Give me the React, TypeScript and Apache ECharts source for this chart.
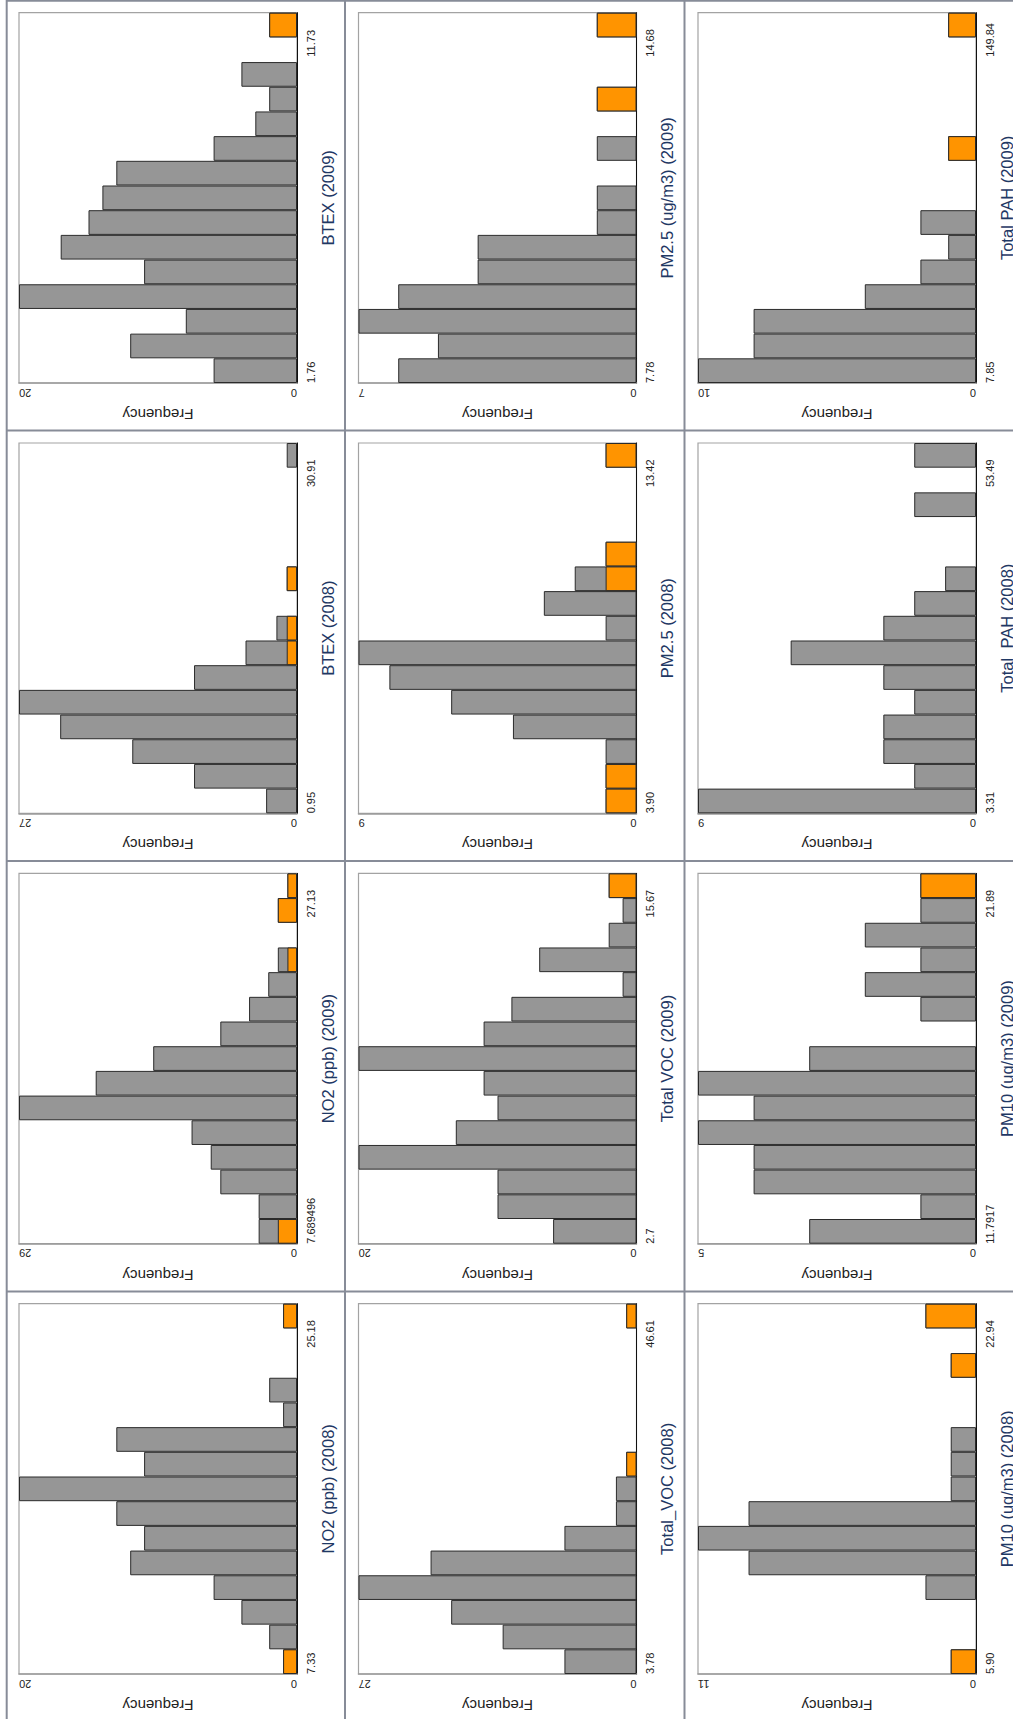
import React, { useEffect, useRef } from "react";
import * as echarts from "echarts";

// 15 equal-width bins per histogram, listed bottom (min) to top (max)
const BIN_LABELS = ["1", "2", "3", "4", "5", "6", "7", "8", "9", "10", "11", "12", "13", "14", "15"];

// counts per bin (grey) and highlighted subset (orange)
const BTEX_2009_COUNTS = [6, 12, 8, 20, 11, 17, 15, 14, 13, 6, 3, 2, 4, 0, 2];
const BTEX_2009_HIGHLIGHT = [0, 0, 0, 0, 0, 0, 0, 0, 0, 0, 0, 0, 0, 0, 2];
const PM25_2009_COUNTS = [6, 5, 7, 6, 4, 4, 1, 1, 0, 1, 0, 1, 0, 0, 1];
const PM25_2009_HIGHLIGHT = [0, 0, 0, 0, 0, 0, 0, 0, 0, 0, 0, 1, 0, 0, 1];
const PAH_2009_COUNTS = [10, 8, 8, 4, 2, 1, 2, 0, 0, 1, 0, 0, 0, 0, 1];
const PAH_2009_HIGHLIGHT = [0, 0, 0, 0, 0, 0, 0, 0, 0, 1, 0, 0, 0, 0, 1];
const BTEX_2008_COUNTS = [3, 10, 16, 23, 27, 10, 5, 2, 0, 1, 0, 0, 0, 0, 1];
const BTEX_2008_HIGHLIGHT = [0, 0, 0, 0, 0, 0, 1, 1, 0, 1, 0, 0, 0, 0, 0];
const PM25_2008_COUNTS = [1, 1, 1, 4, 6, 8, 9, 1, 3, 2, 1, 0, 0, 0, 1];
const PM25_2008_HIGHLIGHT = [1, 1, 0, 0, 0, 0, 0, 0, 0, 1, 1, 0, 0, 0, 1];
const PAH_2008_COUNTS = [9, 2, 3, 3, 2, 3, 6, 3, 2, 1, 0, 0, 2, 0, 2];
const PAH_2008_HIGHLIGHT = [0, 0, 0, 0, 0, 0, 0, 0, 0, 0, 0, 0, 0, 0, 0];
const NO2_2009_COUNTS = [4, 4, 8, 9, 11, 29, 21, 15, 8, 5, 3, 2, 0, 2, 1];
const NO2_2009_HIGHLIGHT = [2, 0, 0, 0, 0, 0, 0, 0, 0, 0, 0, 1, 0, 2, 1];
const VOC_2009_COUNTS = [6, 10, 10, 20, 13, 10, 11, 20, 11, 9, 1, 7, 2, 1, 2];
const VOC_2009_HIGHLIGHT = [0, 0, 0, 0, 0, 0, 0, 0, 0, 0, 0, 0, 0, 0, 2];
const PM10_2009_COUNTS = [3, 1, 4, 4, 5, 4, 5, 3, 0, 1, 2, 1, 2, 1, 1];
const PM10_2009_HIGHLIGHT = [0, 0, 0, 0, 0, 0, 0, 0, 0, 0, 0, 0, 0, 0, 1];
const NO2_2008_COUNTS = [1, 2, 4, 6, 12, 11, 13, 20, 11, 13, 1, 2, 0, 0, 1];
const NO2_2008_HIGHLIGHT = [1, 0, 0, 0, 0, 0, 0, 0, 0, 0, 0, 0, 0, 0, 1];
const VOC_2008_COUNTS = [7, 13, 18, 27, 20, 7, 2, 2, 1, 0, 0, 0, 0, 0, 1];
const VOC_2008_HIGHLIGHT = [0, 0, 0, 0, 0, 0, 0, 0, 1, 0, 0, 0, 0, 0, 1];
const PM10_2008_COUNTS = [1, 0, 0, 2, 9, 11, 9, 1, 1, 1, 0, 0, 1, 0, 2];
const PM10_2008_HIGHLIGHT = [1, 0, 0, 0, 0, 0, 0, 0, 0, 0, 0, 0, 1, 0, 2];

// panel order: reading order of the page, row by row
const TITLES = [
  "BTEX (2009)", "PM2.5 (ug/m3) (2009)", "Total PAH (2009)",
  "BTEX (2008)", "PM2.5 (2008)", "Total_PAH (2008)",
  "NO2 (ppb) (2009)", "Total VOC (2009)", "PM10 (ug/m3) (2009)",
  "NO2 (ppb) (2008)", "Total_VOC (2008)", "PM10 (ug/m3) (2008)",
];
const COUNTS = [
  BTEX_2009_COUNTS, PM25_2009_COUNTS, PAH_2009_COUNTS,
  BTEX_2008_COUNTS, PM25_2008_COUNTS, PAH_2008_COUNTS,
  NO2_2009_COUNTS, VOC_2009_COUNTS, PM10_2009_COUNTS,
  NO2_2008_COUNTS, VOC_2008_COUNTS, PM10_2008_COUNTS,
];
const HIGHLIGHTS = [
  BTEX_2009_HIGHLIGHT, PM25_2009_HIGHLIGHT, PAH_2009_HIGHLIGHT,
  BTEX_2008_HIGHLIGHT, PM25_2008_HIGHLIGHT, PAH_2008_HIGHLIGHT,
  NO2_2009_HIGHLIGHT, VOC_2009_HIGHLIGHT, PM10_2009_HIGHLIGHT,
  NO2_2008_HIGHLIGHT, VOC_2008_HIGHLIGHT, PM10_2008_HIGHLIGHT,
];
const FREQ_MAX = [20, 7, 10, 27, 9, 9, 29, 20, 5, 20, 27, 11];
const MIN_LABELS = ["1.76", "7.78", "7.85", "0.95", "3.90", "3.31", "7.689496", "2.7", "11.7917", "7.33", "3.78", "5.90"];
const MAX_LABELS = ["11.73", "14.68", "149.84", "30.91", "13.42", "53.49", "27.13", "15.67", "21.89", "25.18", "46.61", "22.94"];

// layout
const W = 1013;
const H = 1719;
const COL_X = [19, 358.5, 698];
const ROW_Y = [12.7, 443, 873.4, 1303.7];
const PLOT_W = 278;
const PLOT_H = 370.3;
const V_DIV = [6.7, 345, 684.5];
const H_DIV = [0.8, 430.5, 861, 1291.5];
const FONT = "Liberation Sans";

function buildOption() {
  const grid: any[] = [];
  const xAxis: any[] = [];
  const yAxis: any[] = [];
  const series: any[] = [];
  const graphic: any[] = [];

  V_DIV.forEach((x) =>
    graphic.push({ type: "line", shape: { x1: x, y1: 0, x2: x, y2: H }, style: { stroke: "#878c98", lineWidth: 2 }, silent: true })
  );
  H_DIV.forEach((y) =>
    graphic.push({ type: "line", shape: { x1: V_DIV[0], y1: y, x2: W, y2: y }, style: { stroke: "#878c98", lineWidth: 2 }, silent: true })
  );

  TITLES.forEach((title, i) => {
    const r = Math.floor(i / 3);
    const c = i % 3;
    const left = COL_X[c];
    const top = ROW_Y[r];
    grid.push({
      left, top, width: PLOT_W, height: PLOT_H,
      show: true, borderColor: "#a3a3a3", borderWidth: 1.2, backgroundColor: "#ffffff",
      containLabel: false, outerBoundsMode: "none",
    });
    xAxis.push({
      type: "value", gridIndex: i, inverse: true, position: "bottom",
      min: 0, max: FREQ_MAX[i], interval: FREQ_MAX[i],
      axisLine: { show: true, onZero: false, lineStyle: { color: "#9a9a9a", width: 1.5 } },
      axisTick: { show: false }, splitLine: { show: false },
      axisLabel: {
        show: true, rotate: 180, margin: 4, fontSize: 11, color: "#222", fontFamily: FONT,
        alignMinLabel: "left", alignMaxLabel: "right",
      },
      name: "Frequency", nameLocation: "middle", nameRotate: 180, nameGap: 24,
      nameTextStyle: { fontSize: 15, color: "#222", fontFamily: FONT },
    });
    yAxis.push({
      type: "category", gridIndex: i, position: "right", data: BIN_LABELS,
      axisLine: { show: true, onZero: false, lineStyle: { color: "#111", width: 1 } },
      axisTick: { show: false }, axisLabel: { show: false }, splitLine: { show: false },
      name: title, nameLocation: "middle", nameRotate: 90, nameGap: 22,
      nameTextStyle: { fontSize: 16.5, color: "#1f3864", fontFamily: FONT },
    });
    series.push({
      type: "bar", name: "count", xAxisIndex: i, yAxisIndex: i,
      data: COUNTS[i].map((v) => (v === 0 ? "-" : v)),
      barCategoryGap: "0%", barGap: "-100%",
      itemStyle: { color: "#969696", borderColor: "#2b2b2b", borderWidth: 1 },
      silent: true,
    });
    series.push({
      type: "bar", name: "selected", xAxisIndex: i, yAxisIndex: i,
      data: HIGHLIGHTS[i].map((v) => (v === 0 ? "-" : v)),
      barCategoryGap: "0%", barGap: "-100%",
      itemStyle: { color: "#ff9400", borderColor: "#2b2b2b", borderWidth: 1 },
      silent: true,
    });
    const lx = left + PLOT_W + 8;
    const labelStyle = {
      fontSize: 11, fontFamily: FONT, fill: "#222",
      textAlign: "left", textVerticalAlign: "top", align: "left", verticalAlign: "top",
    };
    graphic.push({
      type: "text", x: lx, y: top + PLOT_H, rotation: Math.PI / 2, silent: true,
      style: { ...labelStyle, text: MIN_LABELS[i] },
    });
    graphic.push({
      type: "text", x: lx, y: top + 44, rotation: Math.PI / 2, silent: true,
      style: { ...labelStyle, text: MAX_LABELS[i] },
    });
  });

  return {
    animation: false,
    backgroundColor: "#ffffff",
    grid, xAxis, yAxis, series, graphic,
  };
}

export default function App() {
  const ref = useRef<HTMLDivElement>(null);
  useEffect(() => {
    document.body.style.margin = "0";
    const chart = echarts.init(ref.current!, null, { renderer: "svg", width: W, height: H });
    chart.setOption(buildOption() as any);
    return () => chart.dispose();
  }, []);
  return (
    <div
      ref={ref}
      style={{ position: "absolute", left: 0, top: 0, width: W, height: H, overflow: "hidden" }}
    />
  );
}
